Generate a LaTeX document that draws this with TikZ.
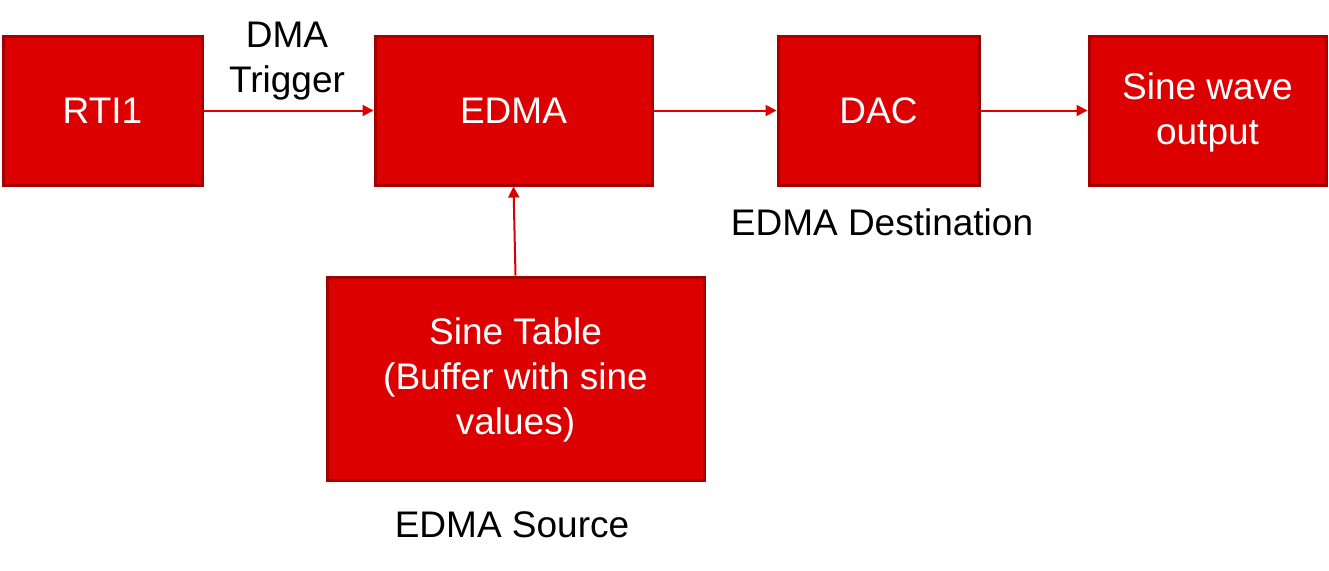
\documentclass[tikz,border=0pt]{standalone}
\usepackage{fontspec}
\setmainfont{Liberation Sans}
\usetikzlibrary{positioning, arrows.meta}

\definecolor{boxred}{HTML}{DD0000}
\definecolor{edgered}{HTML}{A50000}

\begin{document}
\begin{tikzpicture}[
    x=1pt, y=-1pt,
    block/.style={draw=edgered, fill=boxred, line width=3pt,
                  text=white, align=center, inner sep=0pt,
                  font=\fontsize{37}{45}\selectfont},
    note/.style={align=center, inner sep=0pt,
                 font=\fontsize{37}{45}\selectfont},
    flow/.style={draw=boxred, line width=2pt, -{Triangle[length=11pt, width=11pt]}}
  ]
  \useasboundingbox (0,0) rectangle (1329,570);

  % Top row blocks
  \node[block, minimum width=199pt, minimum height=149pt] (rti) at (102.5,110.5) {RTI1};
  \node[block, minimum width=277pt, minimum height=149pt] (edma) at (513.5,110.5) {EDMA};
  \node[block, minimum width=201pt, minimum height=149pt] (dac) at (878.5,110.5) {DAC};
  \node[block, minimum width=237pt, minimum height=149pt, text depth=4pt] (out) at (1207.5,110.5) {Sine wave\\output};

  % Source buffer
  \node[block, minimum width=377pt, minimum height=203pt, text depth=4pt] (table) at (515.5,378.5)
    {Sine Table\\(Buffer with sine\\values)};

  % Labels
  \node[note] (trig) at (287,61) {DMA\\Trigger};
  \node[note] (dest) at (882,222) {EDMA Destination};
  \node[note] (src) at (512,525) {EDMA Source};

  % Wiring
  \draw[flow] (rti.east) -- (edma.west);
  \draw[flow] (edma.east) -- (dac.west);
  \draw[flow] (dac.east) -- (out.west);
  \draw[flow] (table.north) -- (edma.south);
\end{tikzpicture}
\end{document}
